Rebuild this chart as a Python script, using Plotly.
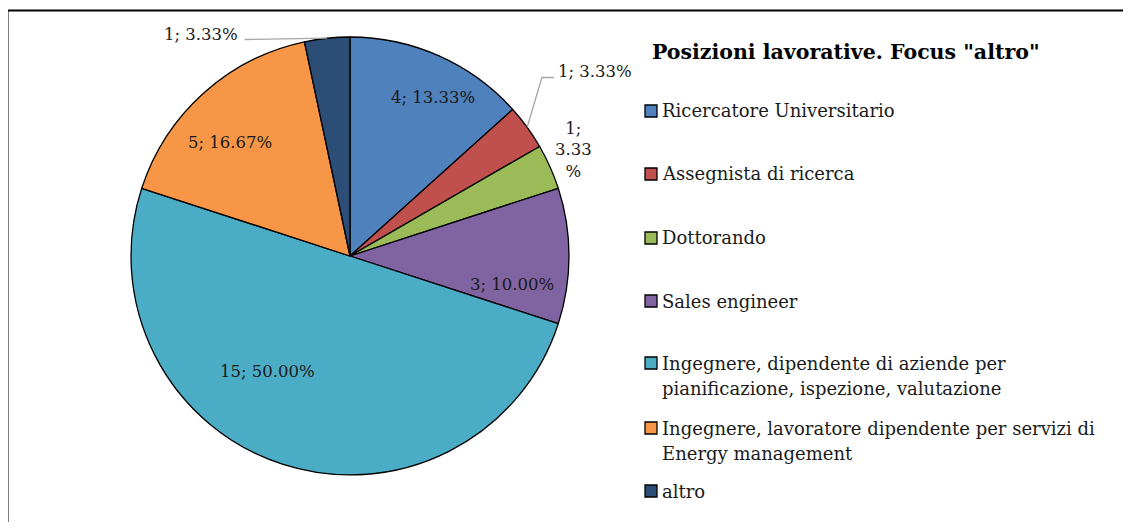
import math
import plotly.graph_objects as go

# ---- data ----
categories = [
    "Ricercatore Universitario",
    "Assegnista di ricerca",
    "Dottorando",
    "Sales engineer",
    "Ingegnere, dipendente di aziende per pianificazione, ispezione, valutazione",
    "Ingegnere, lavoratore dipendente per servizi di Energy management",
    "altro",
]
legend_lines = [
    ["Ricercatore Universitario"],
    ["Assegnista di ricerca"],
    ["Dottorando"],
    ["Sales engineer"],
    ["Ingegnere, dipendente di aziende per", "pianificazione, ispezione, valutazione"],
    ["Ingegnere, lavoratore dipendente per servizi di", "Energy management"],
    ["altro"],
]
values = [4, 1, 1, 3, 15, 5, 1]
colors = ["#4F81BD", "#C0504D", "#9BBB59", "#8064A2", "#4BACC6", "#F79646", "#2C4D75"]
title = 'Posizioni lavorative. Focus "altro"'

# page body has an 8px margin; figure is sized to fit the window without overflow
OFF = 8
W, H = 1131 - 2 * OFF, 530 - 2 * OFF
FONT = "DejaVu Serif"

# pie geometry (reference pixels)
cx, cy, R = 350, 256, 219


def px(x):
    return (x - OFF) / W


def py(y):
    return 1 - (y - OFF) / H


fig = go.Figure()
fig.add_trace(go.Pie(
    labels=categories,
    values=values,
    sort=False,
    direction="clockwise",
    rotation=0,
    marker=dict(colors=colors, line=dict(color="black", width=1.3)),
    textinfo="none",
    hoverinfo="label+value+percent",
    showlegend=False,
    domain=dict(x=[px(cx - R), px(cx + R)], y=[py(cy + R), py(cy - R)]),
))

# ---- data labels (placed from slice angles) ----
total = sum(values)
label_r = [0.815, 1.40, 1.13, 0.75, 0.65, 0.756, 1.22]
label_da = [3.7, -1.0, -1.4, 10.0, 17.6, -4.5, -28.0]
label_wrap = [False, False, True, False, False, False, False]
leader = [False, True, False, False, False, False, True]

annotations = []
shapes = []
cum = 0
for i, v in enumerate(values):
    a0 = cum / total * 360
    cum += v
    a1 = cum / total * 360
    mid = (a0 + a1) / 2
    ang = math.radians(mid + label_da[i])
    lx = cx + label_r[i] * R * math.sin(ang)
    ly = cy - label_r[i] * R * math.cos(ang)
    pct = v / total * 100
    txt = f"{v}; {pct:.2f}%"
    if label_wrap[i]:
        txt = f"{v};<br>{pct:.2f}<br>%"
    annotations.append(dict(
        x=px(lx), y=py(ly), xref="paper", yref="paper", text=txt,
        showarrow=False, xanchor="center", yanchor="middle",
        font=dict(family=FONT, size=16.5, color="#1a1a1a"),
    ))
    if leader[i]:
        ex = cx + R * math.sin(math.radians(mid))
        ey = cy - R * math.cos(math.radians(mid))
        if lx > cx:
            sx = lx - 41
            path = f"M {px(ex)},{py(ey)} L {px(sx - 12)},{py(ly + 6)} L {px(sx)},{py(ly + 6)}"
        else:
            sx = lx + 44
            path = f"M {px(ex)},{py(ey)} L {px(sx)},{py(ly + 5)}"
        shapes.append(dict(type="path", xref="paper", yref="paper", path=path,
                           line=dict(color="#A6A6A6", width=1.3)))

# ---- title ----
annotations.append(dict(
    x=px(650), y=py(52), xref="paper", yref="paper", text=f"<b>{title}</b>",
    showarrow=False, xanchor="left", yanchor="middle",
    font=dict(family=FONT, size=20.5, color="black"),
))

# ---- custom legend ----
first_line_y = [111, 174, 238, 301, 363, 428, 491]
line_gap = 25
for i, lines in enumerate(legend_lines):
    y0 = first_line_y[i]
    shapes.append(dict(type="rect", xref="paper", yref="paper",
                       x0=px(645), x1=px(657), y0=py(y0 + 6), y1=py(y0 - 6),
                       fillcolor=colors[i], line=dict(color="black", width=1.3)))
    for j, t in enumerate(lines):
        annotations.append(dict(
            x=px(660), y=py(y0 + j * line_gap), xref="paper", yref="paper", text=t,
            showarrow=False, xanchor="left", yanchor="middle",
            font=dict(family=FONT, size=18, color="#1a1a1a"),
        ))

# ---- outer border: only the top and left edges fall inside the picture ----
bx, by = 7.5, 10.5
shapes.append(dict(type="path", xref="paper", yref="paper",
                   path=f"M {px(bx)},{py(540)} L {px(bx)},{py(by)} L {px(1140)},{py(by)}",
                   line=dict(color="black", width=2)))

fig.update_layout(
    width=W, height=H,
    margin=dict(l=0, r=0, t=0, b=0),
    paper_bgcolor="white", plot_bgcolor="white",
    annotations=annotations, shapes=shapes,
    showlegend=False,
)
fig.write_html("out.html")
